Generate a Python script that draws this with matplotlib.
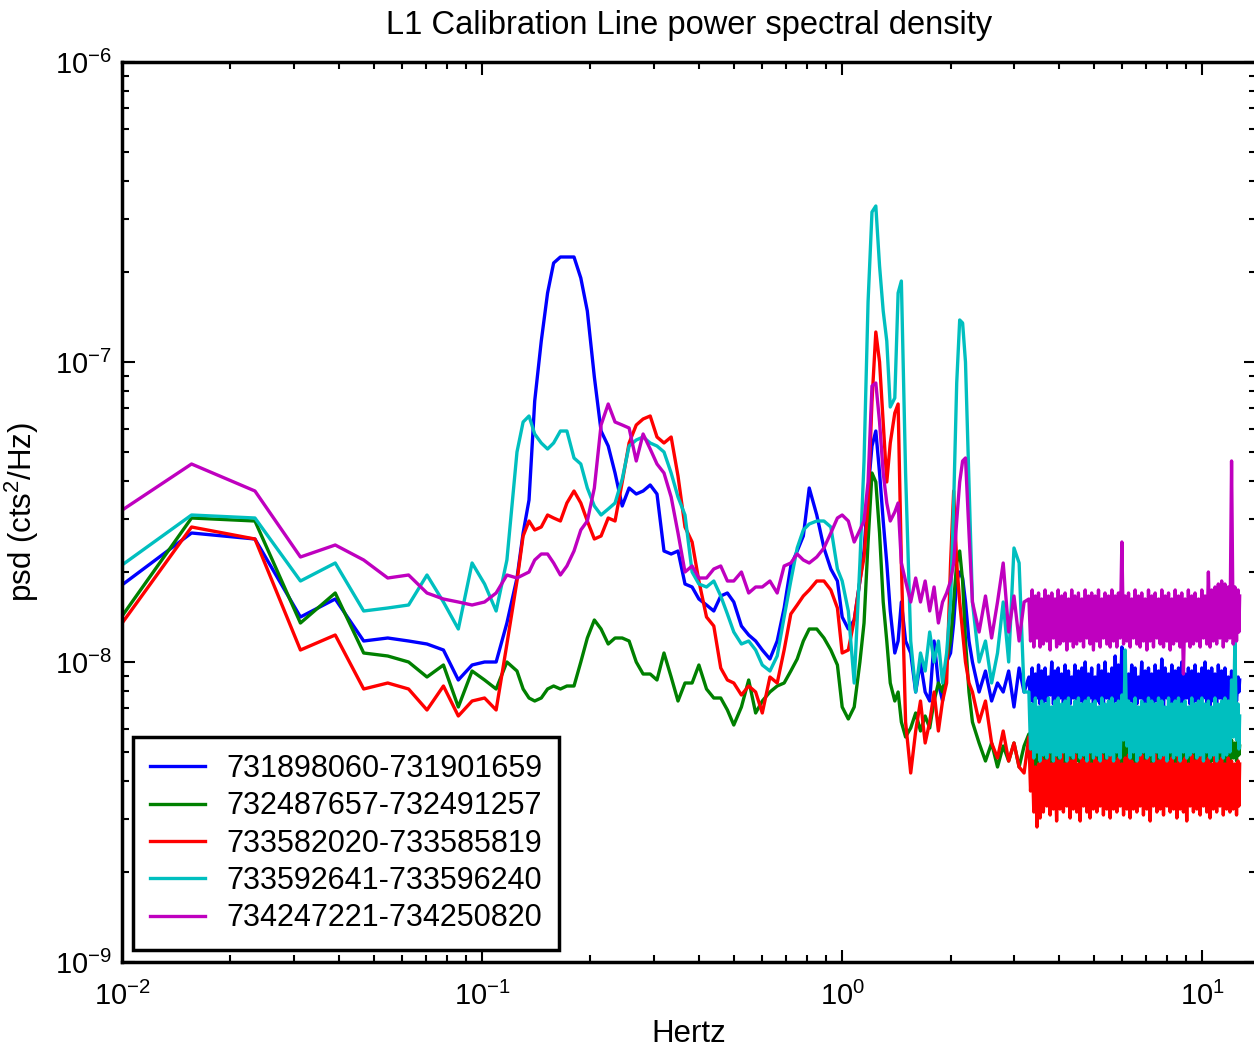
import numpy as np
import matplotlib
matplotlib.use("Agg")
import matplotlib.pyplot as plt

# Frequency bins (Hz): 1/128 Hz bins at the low end, then a log grid
freq_low = [
    0.0078, 0.0156, 0.0234, 0.0313, 0.0391, 0.0469, 0.0547, 0.0625, 0.0703, 0.0781,
    0.0859, 0.0938, 0.1016, 0.1094, 0.1172, 0.125,
]
freq_mid = [
    0.13, 0.135, 0.14, 0.146, 0.152, 0.158, 0.165, 0.172, 0.18, 0.188,
    0.196, 0.205, 0.214, 0.224, 0.234, 0.245, 0.256, 0.268, 0.28, 0.293,
    0.306, 0.32, 0.335, 0.35, 0.366, 0.383, 0.4, 0.42, 0.44, 0.46,
    0.48, 0.5, 0.525, 0.55, 0.575, 0.6, 0.63, 0.66, 0.69, 0.72,
    0.75, 0.78, 0.81, 0.85, 0.89, 0.93, 0.97, 1.0, 1.04, 1.08,
    1.12, 1.15, 1.18, 1.21, 1.24, 1.27, 1.3, 1.33, 1.36, 1.4,
    1.43, 1.46, 1.5, 1.55, 1.6, 1.65, 1.7, 1.75, 1.8, 1.85,
    1.9, 1.95, 2.0, 2.04, 2.08, 2.12, 2.16, 2.2, 2.25, 2.3,
    2.4, 2.5, 2.6, 2.7, 2.8, 2.9, 3.0, 3.1, 3.2,
]
freq_high = [
    3.3, 3.335, 3.37, 3.405, 3.44, 3.475, 3.51, 3.545, 3.58, 3.62,
    3.66, 3.7, 3.74, 3.78, 3.82, 3.86, 3.9, 3.94, 3.98, 4.025,
    4.07, 4.115, 4.16, 4.205, 4.25, 4.295, 4.34, 4.385, 4.43, 4.48,
    4.53, 4.58, 4.63, 4.68, 4.73, 4.78, 4.83, 4.88, 4.93, 4.985,
    5.04, 5.095, 5.15, 5.205, 5.26, 5.315, 5.37, 5.43, 5.49, 5.55,
    5.61, 5.67, 5.73, 5.79, 5.85, 5.915, 5.98, 6.045, 6.11, 6.175,
    6.24, 6.305, 6.37, 6.44, 6.51, 6.58, 6.65, 6.72, 6.79, 6.865,
    6.94, 7.015, 7.09, 7.165, 7.24, 7.32, 7.4, 7.48, 7.56, 7.64,
    7.72, 7.805, 7.89, 7.975, 8.06, 8.145, 8.23, 8.32, 8.41, 8.5,
    8.59, 8.68, 8.77, 8.865, 8.96, 9.055, 9.15, 9.25, 9.35, 9.45,
    9.55, 9.655, 9.76, 9.865, 9.97, 10.075, 10.18, 10.29, 10.4, 10.51,
    10.62, 10.735, 10.85, 10.965, 11.08, 11.2, 11.32, 11.44, 11.56, 11.685,
    11.81, 11.935, 12.06, 12.19, 12.32, 12.45, 12.58, 12.64, 12.7,
]

# PSD of each segment in dB (10*log10 of cts^2/Hz)
blue_db = [
    -78.4, -75.7, -75.9, -78.5, -77.9, -79.3, -79.2, -79.3, -79.4, -79.6,
    -80.6, -80.1, -80.0, -80.0, -78.7, -77.2,
    # mid
    -75.7, -74.6, -71.3, -69.3, -67.7, -66.7, -66.5, -66.5, -66.5, -67.2,
    -68.3, -70.5, -72.3, -72.8, -73.7, -74.8, -74.2, -74.4, -74.3, -74.1,
    -74.4, -76.3, -76.4, -76.3, -77.4, -77.5, -77.9, -78.1, -78.3, -77.8,
    -77.7, -78.0, -78.8, -79.1, -79.3, -79.6, -79.9, -79.3, -78.2, -76.8,
    -76.3, -75.8, -74.2, -75.1, -76.2, -76.9, -77.3, -78.5, -78.9, -78.6,
    -77.3, -76.3, -74.3, -72.8, -72.3, -73.7, -75.3, -76.7, -78.3, -79.7,
    -79.3, -78.0, -79.3, -79.7, -81.0, -80.0, -81.0, -81.3, -79.3, -80.7,
    -81.3, -80.0, -79.7, -78.7, -77.3, -77.0, -77.2, -78.0, -79.3, -80.0,
    -81.0, -80.3, -81.3, -80.7, -81.0, -80.3, -81.5, -80.2, -81.0,
    # high
    -80.5, -81.3, -80.2, -81.5, -80.4, -81.2, -80.1, -81.4, -80.3, -81.5,
    -80.2, -81.3, -80.5, -81.1, -80.0, -81.4, -80.3, -81.6, -80.2, -81.2,
    -80.4, -81.5, -80.1, -81.3, -80.3, -81.4, -80.5, -81.2, -80.1, -81.5,
    -80.3, -81.3, -80.2, -81.6, -80.0, -81.4, -80.4, -81.2, -80.2, -81.5,
    -80.5, -81.3, -80.1, -81.4, -80.3, -81.5, -80.0, -81.2, -80.4, -81.4,
    -80.2, -81.5, -79.8, -81.3, -80.1, -81.4, -79.5, -81.2, -80.3, -81.5,
    -80.4, -81.3, -80.1, -81.5, -80.2, -81.4, -80.5, -81.2, -80.0, -81.5,
    -80.3, -81.4, -80.2, -81.3, -80.4, -81.6, -80.1, -81.3, -80.3, -81.4,
    -79.9, -81.5, -80.2, -81.2, -80.4, -81.4, -80.1, -81.5, -80.3, -81.3,
    -80.2, -81.4, -80.0, -81.5, -80.4, -81.2, -80.2, -81.4, -80.3, -81.5,
    -80.1, -81.3, -80.4, -81.5, -80.2, -81.2, -80.0, -81.4, -80.3, -81.5,
    -80.2, -81.3, -80.4, -81.5, -80.1, -81.2, -80.3, -81.4, -80.2, -81.3,
    -80.5, -81.4, -80.3, -81.2, -80.4, -81.3, -80.5, -81.0, -80.6,
]

green_db = [
    -80.3, -75.2, -75.3, -78.7, -77.7, -79.7, -79.8, -80.0, -80.5, -80.1,
    -81.5, -80.3, -80.6, -80.9, -80.0, -80.3,
    # mid
    -80.9, -81.2, -81.3, -81.2, -80.9, -80.8, -80.9, -80.8, -80.8, -80.0,
    -79.2, -78.6, -78.9, -79.4, -79.2, -79.2, -79.3, -80.0, -80.4, -80.4,
    -80.6, -79.7, -80.5, -81.3, -80.7, -80.7, -80.1, -80.9, -81.2, -81.2,
    -81.6, -82.1, -81.5, -80.6, -81.7, -81.3, -81.0, -80.8, -80.7, -80.3,
    -79.9, -79.3, -78.9, -78.9, -79.2, -79.6, -80.1, -81.5, -81.9, -81.5,
    -80.0, -78.7, -76.0, -73.7, -74.0, -75.7, -78.0, -79.3, -80.7, -81.3,
    -81.0, -82.0, -82.5, -82.2, -81.7, -82.3, -81.8, -82.2, -81.3, -80.7,
    -81.0, -80.0, -79.3, -78.0, -76.7, -76.3, -77.3, -79.3, -81.0, -82.0,
    -82.7, -83.3, -82.7, -83.5, -82.8, -83.3, -82.7, -83.5, -82.8,
    # high
    -82.4, -83.4, -82.6, -83.5, -82.3, -83.6, -82.5, -83.3, -82.4, -83.5,
    -82.6, -83.4, -82.3, -83.6, -82.5, -83.5, -82.4, -83.3, -82.6, -83.6,
    -82.3, -83.5, -82.4, -83.4, -82.6, -83.6, -82.2, -83.5, -82.4, -83.3,
    -82.5, -83.6, -82.3, -83.4, -82.4, -83.7, -82.6, -83.5, -82.3, -83.4,
    -82.4, -83.5, -82.6, -83.3, -82.3, -83.6, -82.5, -83.4, -82.4, -83.5,
    -82.3, -83.6, -82.5, -83.4, -82.2, -83.5, -82.4, -83.6, -82.6, -83.3,
    -82.4, -83.5, -82.3, -83.6, -82.5, -83.4, -82.4, -83.5, -82.6, -83.3,
    -82.3, -83.6, -82.5, -83.4, -82.2, -83.5, -82.4, -83.6, -82.3, -83.4,
    -82.5, -83.3, -82.4, -83.6, -82.6, -83.5, -82.3, -83.4, -82.4, -83.6,
    -82.2, -83.5, -82.5, -83.4, -82.3, -83.6, -82.4, -83.5, -82.6, -83.3,
    -82.4, -83.6, -82.3, -83.5, -82.5, -83.4, -82.2, -83.6, -82.4, -83.5,
    -82.6, -83.3, -82.4, -83.5, -82.3, -83.6, -82.5, -83.4, -82.4, -83.5,
    -82.5, -83.4, -82.6, -83.2, -82.7, -83.3, -82.6, -83.1, -82.8,
]

red_db = [
    -80.5, -75.5, -75.9, -79.6, -79.1, -80.9, -80.7, -80.9, -81.6, -80.8,
    -81.8, -81.3, -81.2, -81.6, -79.4, -77.3,
    # mid
    -75.8, -75.3, -75.6, -75.5, -75.1, -75.2, -75.3, -74.7, -74.3, -74.7,
    -75.3, -75.9, -75.8, -75.2, -75.3, -74.0, -72.7, -72.1, -71.9, -71.8,
    -72.5, -72.7, -72.5, -73.8, -75.5, -76.0, -77.3, -78.5, -78.8, -80.2,
    -80.6, -80.7, -81.1, -80.8, -81.0, -81.7, -80.5, -80.7, -79.6, -78.4,
    -78.1, -77.8, -77.6, -77.3, -77.3, -77.6, -78.2, -79.7, -79.6, -78.6,
    -77.3, -76.5, -74.7, -71.3, -69.0, -70.0, -72.0, -74.0, -72.7, -71.7,
    -71.4, -76.7, -82.0, -83.7, -82.3, -81.3, -82.7, -82.0, -81.0, -82.3,
    -81.3, -80.7, -76.7, -74.3, -76.7, -78.0, -79.0, -80.0, -80.7, -81.0,
    -82.0, -81.3, -82.7, -83.2, -82.3, -83.3, -82.7, -83.5, -83.7,
    # high
    -82.5, -84.3, -83.0, -85.0, -83.5, -85.5, -83.4, -85.2, -83.2, -85.0,
    -83.3, -84.8, -83.1, -85.1, -83.4, -84.9, -83.2, -85.3, -83.3, -84.9,
    -83.0, -85.0, -83.4, -84.8, -83.2, -85.2, -83.3, -84.9, -83.1, -85.0,
    -83.4, -85.3, -83.2, -84.8, -83.3, -85.0, -83.1, -85.2, -83.4, -84.9,
    -83.2, -85.0, -83.3, -84.8, -83.1, -85.1, -83.3, -84.9, -83.2, -85.2,
    -83.0, -84.9, -83.3, -85.0, -83.2, -84.8, -83.4, -85.1, -83.2, -84.9,
    -83.1, -85.2, -83.3, -84.9, -83.4, -85.0, -83.2, -84.8, -83.1, -85.1,
    -83.3, -84.9, -83.2, -85.3, -83.4, -84.8, -83.1, -85.0, -83.3, -84.9,
    -83.2, -85.1, -83.0, -84.8, -83.3, -85.0, -83.2, -84.9, -83.4, -85.2,
    -83.1, -84.9, -83.3, -85.0, -83.2, -85.3, -83.4, -84.8, -83.1, -85.0,
    -83.3, -84.9, -83.2, -85.1, -83.0, -84.8, -83.3, -85.0, -83.2, -85.2,
    -83.4, -84.9, -83.1, -85.0, -83.3, -84.8, -83.2, -85.1, -83.4, -84.9,
    -83.2, -85.0, -83.3, -84.9, -83.4, -85.1, -83.3, -84.8, -83.4,
]

cyan_db = [
    -77.7, -75.1, -75.2, -77.3, -76.7, -78.3, -78.2, -78.1, -77.1, -78.0,
    -78.9, -76.7, -77.4, -78.3, -76.6, -73.0,
    # mid
    -72.0, -71.8, -72.4, -72.7, -72.9, -72.7, -72.3, -72.3, -73.2, -73.4,
    -74.2, -74.8, -75.1, -74.9, -74.7, -73.9, -72.8, -72.6, -72.5, -72.7,
    -72.8, -73.0, -73.7, -74.5, -75.1, -77.0, -77.4, -77.5, -77.3, -77.8,
    -78.4, -79.0, -79.4, -79.3, -79.6, -80.1, -80.3, -79.8, -78.5, -77.3,
    -76.2, -75.6, -75.4, -75.3, -75.3, -75.5, -76.9, -77.3, -78.3, -80.7,
    -76.7, -73.3, -68.0, -65.0, -64.8, -66.8, -68.3, -69.3, -71.5, -71.2,
    -67.7, -67.3, -73.7, -79.3, -81.0, -79.7, -80.3, -79.0, -80.0, -79.3,
    -80.7, -79.7, -78.0, -74.7, -70.7, -68.6, -68.7, -70.0, -74.0, -78.0,
    -80.0, -79.3, -80.7, -79.7, -78.0, -80.0, -76.2, -76.7, -81.0,
    # high
    -81.0, -82.9, -81.4, -83.2, -81.2, -83.0, -81.5, -83.3, -81.3, -83.1,
    -81.4, -83.2, -81.2, -83.0, -81.5, -83.3, -81.3, -83.1, -81.2, -83.2,
    -81.4, -83.0, -81.3, -83.3, -81.2, -83.1, -81.5, -83.2, -81.3, -83.0,
    -81.2, -83.2, -81.4, -83.1, -81.3, -83.3, -81.2, -83.0, -81.4, -83.2,
    -81.3, -83.1, -81.5, -83.3, -81.2, -83.0, -81.4, -83.2, -81.3, -83.1,
    -81.2, -83.3, -81.4, -83.0, -81.3, -83.2, -81.1, -82.6, -79.6, -82.8,
    -81.3, -83.2, -81.4, -83.0, -81.2, -83.3, -81.5, -83.1, -81.3, -83.0,
    -81.4, -83.2, -81.2, -83.1, -81.3, -83.3, -81.4, -83.0, -81.2, -83.2,
    -81.3, -83.1, -81.5, -83.3, -81.2, -83.0, -81.4, -83.2, -81.3, -83.1,
    -81.2, -83.3, -81.4, -83.0, -81.3, -83.2, -81.5, -83.1, -81.2, -83.0,
    -81.4, -83.2, -81.3, -83.1, -81.2, -83.3, -81.4, -83.0, -81.3, -83.2,
    -81.5, -83.1, -81.2, -83.3, -81.4, -83.0, -81.3, -83.2, -81.2, -83.1,
    -81.3, -83.0, -80.6, -82.5, -79.3, -82.6, -81.4, -82.9, -81.8,
]

magenta_db = [
    -75.8, -73.4, -74.3, -76.5, -76.1, -76.6, -77.2, -77.1, -77.7, -77.9,
    -78.0, -78.1, -78.0, -77.7, -77.1, -77.2,
    # mid
    -77.1, -77.0, -76.6, -76.4, -76.4, -76.7, -77.1, -76.8, -76.3, -75.6,
    -75.3, -74.2, -72.1, -71.4, -72.0, -72.1, -72.2, -73.3, -72.4, -72.9,
    -73.4, -73.7, -74.5, -75.7, -77.0, -76.8, -77.2, -77.2, -76.9, -76.8,
    -77.3, -77.3, -77.0, -77.7, -77.5, -77.5, -77.3, -77.7, -76.8, -76.7,
    -76.4, -76.6, -76.7, -76.5, -76.2, -75.7, -75.2, -75.1, -75.3, -76.0,
    -75.6, -75.3, -74.0, -70.8, -70.7, -72.0, -73.7, -74.7, -75.3, -75.0,
    -74.7, -76.7, -77.3, -78.0, -77.2, -78.0, -77.3, -78.3, -77.5, -78.7,
    -78.0, -77.7, -77.3, -76.7, -75.3, -74.0, -73.3, -73.2, -75.7, -78.0,
    -79.0, -77.8, -79.2, -78.0, -76.7, -79.0, -77.8, -79.3, -78.0,
    # high
    -77.9, -79.3, -77.6, -79.5, -77.8, -79.2, -77.7, -79.5, -77.9, -79.4,
    -77.6, -79.3, -77.8, -79.6, -77.7, -79.2, -77.9, -79.5, -77.6, -79.4,
    -77.8, -79.3, -77.7, -79.6, -77.9, -79.3, -77.6, -79.5, -77.8, -79.4,
    -77.7, -79.3, -77.9, -79.5, -77.6, -79.2, -77.8, -79.4, -77.7, -79.6,
    -77.8, -79.3, -77.6, -79.5, -77.9, -79.2, -77.7, -79.4, -77.8, -79.5,
    -77.6, -79.3, -77.8, -79.5, -77.7, -79.2, -76.0, -79.4, -77.8, -79.3,
    -77.7, -79.5, -77.9, -79.2, -77.6, -79.4, -77.8, -79.5, -77.7, -79.3,
    -77.9, -79.6, -77.6, -79.3, -77.8, -79.5, -77.7, -79.2, -77.9, -79.4,
    -77.6, -79.5, -77.8, -79.3, -77.7, -79.6, -77.9, -79.4, -77.6, -79.3,
    -77.8, -79.5, -77.7, -80.4, -77.9, -79.3, -77.6, -79.5, -77.8, -79.4,
    -77.7, -79.3, -77.9, -79.5, -77.6, -79.2, -77.8, -79.4, -77.0, -79.5,
    -77.6, -79.3, -77.5, -79.4, -77.4, -79.2, -77.3, -79.5, -77.4, -79.3,
    -77.5, -79.2, -73.3, -79.4, -77.5, -79.3, -77.6, -79.0, -77.8,
]

segments = [
    "731898060-731901659",
    "732487657-732491257",
    "733582020-733585819",
    "733592641-733596240",
    "734247221-734250820",
]
colors = ["#0000ff", "#008000", "#ff0000", "#00bfbf", "#bf00bf"]
series = [blue_db, green_db, red_db, cyan_db, magenta_db]

freq = freq_low + freq_mid + freq_high

plt.rcParams["font.family"] = ["Liberation Sans", "DejaVu Sans"]
plt.rcParams["mathtext.default"] = "regular"

fig = plt.figure(figsize=(12.54, 10.5), dpi=100)
ax = fig.add_axes([122 / 1254, 88 / 1050, 1134 / 1254, 900 / 1050])

for db, name, c in zip(series, segments, colors):
    psd = 10 ** (np.array(db) / 10.0)
    ax.loglog(freq, psd, color=c, lw=2.4, label=name)

ax.set_xlim(0.01, 14.1)
ax.set_ylim(1e-9, 1e-6)

ax.tick_params(which="both", direction="in", top=True, right=True,
               width=1.5, labelsize=21)
ax.tick_params(which="major", length=9)
ax.tick_params(axis="x", which="major", pad=14)
ax.tick_params(axis="y", which="major", pad=7)
ax.tick_params(which="minor", length=5)
for s in ax.spines.values():
    s.set_linewidth(2.5)

ax.set_title("L1 Calibration Line power spectral density", fontsize=23.5, pad=20)
ax.set_xlabel("Hertz", fontsize=22.5, labelpad=6)
ax.set_ylabel("psd (cts$^2$/Hz)", fontsize=22.5, labelpad=10)

leg = ax.legend(loc="lower left", bbox_to_anchor=(0.0097, 0.0133),
                fontsize=22, fancybox=False, edgecolor="black", framealpha=1,
                handlelength=1.8, handletextpad=0.7, borderpad=0.55,
                labelspacing=0.24, borderaxespad=0)
leg.get_frame().set_linewidth(2.5)

fig.savefig("out.png", dpi=100)
